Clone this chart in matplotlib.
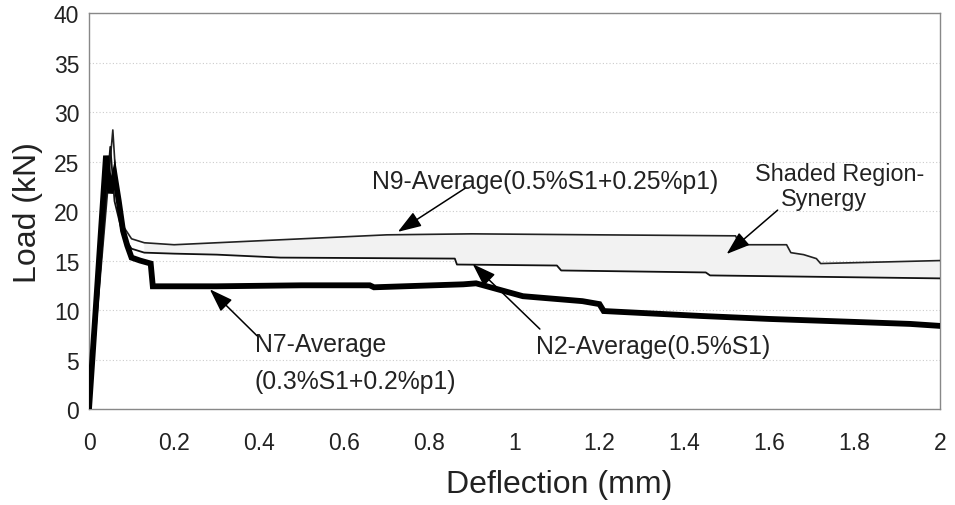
import matplotlib
matplotlib.use("Agg")
import matplotlib.pyplot as plt
import numpy as np

plt.rcParams['font.family'] = ['Liberation Sans', 'DejaVu Sans']

# N9-Average (0.5%S1+0.25%p1)
n9_x = [0, 0.056, 0.065, 0.08, 0.10, 0.13, 0.20, 0.30, 0.50, 0.70, 0.90, 1.20, 1.52, 1.53, 1.64, 1.65, 1.68, 1.71, 1.72, 2.0]
n9_y = [0, 28.2, 22.0, 18.5, 17.2, 16.8, 16.6, 16.8, 17.2, 17.6, 17.7, 17.6, 17.5, 16.6, 16.6, 15.8, 15.6, 15.2, 14.7, 15.0]

# N2-Average (0.5%S1)
n2_x = [0, 0.05, 0.06, 0.08, 0.10, 0.13, 0.20, 0.30, 0.45, 0.86, 0.865, 1.10, 1.11, 1.45, 1.46, 2.0]
n2_y = [0, 26.5, 21.0, 17.5, 16.2, 15.8, 15.7, 15.6, 15.3, 15.2, 14.6, 14.5, 14.0, 13.8, 13.5, 13.2]

# N7-Average (0.3%S1+0.2%p1)
n7_x = [0, 0.04, 0.05, 0.06, 0.07, 0.08, 0.09, 0.10, 0.12, 0.145, 0.15, 0.30, 0.50, 0.66, 0.67,
        0.88, 0.91, 1.02, 1.16, 1.20, 1.21, 1.44, 1.60, 1.80, 1.93, 2.0]
n7_y = [0, 25.6, 21.8, 23.7, 21.0, 18.0, 16.5, 15.3, 15.0, 14.7, 12.4, 12.4, 12.5, 12.5, 12.3,
        12.6, 12.7, 11.4, 10.9, 10.6, 9.9, 9.4, 9.1, 8.8, 8.6, 8.4]

x_ticks = [0, 0.2, 0.4, 0.6, 0.8, 1, 1.2, 1.4, 1.6, 1.8, 2]
x_tick_labels = ['0', '0.2', '0.4', '0.6', '0.8', '1', '1.2', '1.4', '1.6', '1.8', '2']
y_ticks = [0, 5, 10, 15, 20, 25, 30, 35, 40]

fig = plt.figure(figsize=(9.55, 5.06), dpi=100)
ax = fig.add_axes([0.0932, 0.1897, 0.8908, 0.7823])

# shaded synergy region between N9 and N2
sx9 = [x for x in n9_x if x >= 0.13]
sy9 = [y for x, y in zip(n9_x, n9_y) if x >= 0.13]
sx2 = [x for x in n2_x if x >= 0.13]
sy2 = [y for x, y in zip(n2_x, n2_y) if x >= 0.13]
ax.fill(sx9 + sx2[::-1], sy9 + sy2[::-1], color='#f2f2f2', lw=0, zorder=1)

ax.plot(n9_x, n9_y, color='#222222', lw=1.2, zorder=3)
ax.plot(n2_x, n2_y, color='#111111', lw=1.3, zorder=3)
ax.plot(n7_x, n7_y, color='black', lw=4.2, zorder=4, solid_joinstyle='miter')

ax.set_xlim(0, 2)
ax.set_ylim(0, 40)
ax.set_xticks(x_ticks)
ax.set_xticklabels(x_tick_labels)
ax.set_yticks(y_ticks)
ax.tick_params(axis='both', length=0, labelsize=16.5, colors='#222222')
ax.tick_params(axis='x', pad=16)
ax.tick_params(axis='y', pad=7)
ax.yaxis.grid(True, color='#cccccc', lw=0.8, ls=(0, (1, 2)))
ax.set_axisbelow(True)
for s in ax.spines.values():
    s.set_color('#888888')
    s.set_linewidth(1.0)

ax.set_xlabel('Deflection (mm)', fontsize=23, color='#222222', va='center')
ax.xaxis.set_label_coords(0.553, -0.19)
ax.set_ylabel('Load (kN)', fontsize=23, color='#222222', va='center')
ax.yaxis.set_label_coords(-0.0717, 0.5)

ap = dict(arrowstyle='-|>,head_length=1.45,head_width=0.5', color='black', lw=1.1,
          shrinkA=0, shrinkB=0)
fs = 17.8
tc = '#222222'
ax.text(1.072, 23.0, 'N9-Average(0.5%S1+0.25%p1)', fontsize=fs, color=tc, ha='center', va='center')
ax.annotate('', xy=(0.726, 17.9), xytext=(0.884, 22.3), arrowprops=ap)
ax.text(1.765, 23.75, 'Shaded Region-', fontsize=16.8, color=tc, ha='center', va='center')
ax.text(1.727, 21.3, 'Synergy', fontsize=16.8, color=tc, ha='center', va='center')
ax.annotate('', xy=(1.499, 15.66), xytext=(1.619, 20.1), arrowprops=ap)
ax.text(1.326, 6.36, 'N2-Average(0.5%S1)', fontsize=fs, color=tc, ha='center', va='center')
ax.annotate('', xy=(0.902, 14.65), xytext=(1.06, 8.08), arrowprops=ap)
ax.text(0.39, 6.57, 'N7-Average', fontsize=fs, color=tc, ha='left', va='center')
ax.text(0.39, 2.83, '(0.3%S1+0.2%p1)', fontsize=fs, color=tc, ha='left', va='center')
ax.annotate('', xy=(0.284, 12.1), xytext=(0.395, 7.4), arrowprops=ap)

fig.savefig('out.png', dpi=100)
